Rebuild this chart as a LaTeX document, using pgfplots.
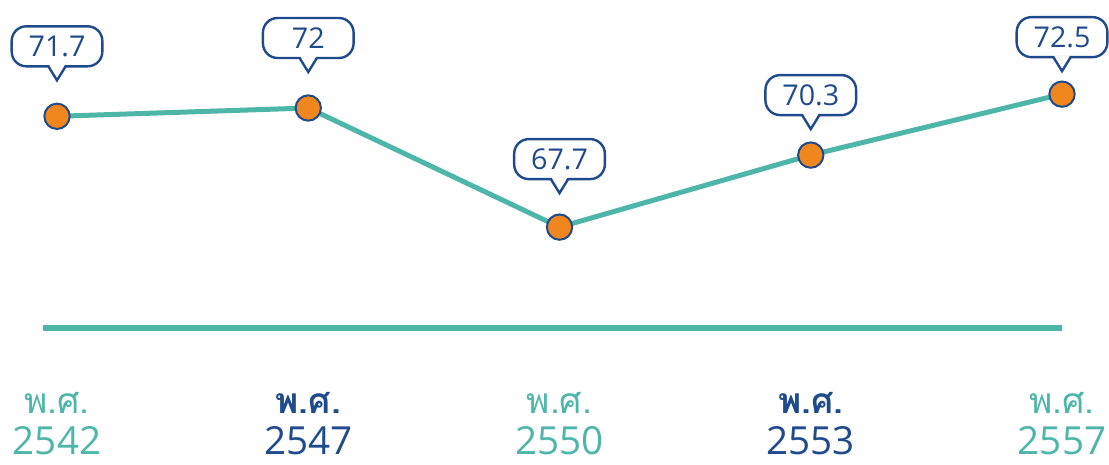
\documentclass[border=0pt]{standalone}
\usepackage{pgfplots}
\pgfplotsset{compat=1.18}
\usepackage{fontspec}
\setmainfont{Open Sans}
\newfontfamily\thaifont[Script=Thai]{Loma}
\definecolor{teal1}{RGB}{77,182,168}
\definecolor{navy1}{RGB}{31,74,140}
\definecolor{orange1}{RGB}{240,134,30}
% #1 name, #2 x, #3 y, #4 text, #5 box-centre offset (pt)
\newcommand\mycallout[5]{%
  \node[draw=navy1, line width=1.8pt, fill=white, rounded corners=11pt,
        minimum width=68pt, minimum height=30pt, inner sep=0pt, outer sep=0pt,
        text=navy1, font=\fontsize{21.5}{21.5}\selectfont, yshift=#5]
        (#1) at (axis cs:#2,#3) {#4};
  \fill[white] ([xshift=-6pt,yshift=1.3pt]#1.south) -- ([yshift=-10.5pt]#1.south) -- ([xshift=6pt,yshift=1.3pt]#1.south) -- cycle;
  \draw[navy1, line width=1.8pt, line join=miter] ([xshift=-6.5pt]#1.south) -- ([yshift=-10.5pt]#1.south) -- ([xshift=6.5pt]#1.south);
}
\begin{document}
\begin{tikzpicture}
\begin{axis}[
  scale only axis, width=831.75pt, height=348pt,
  xmin=-0.2269, xmax=4.187, ymin=59.148, ymax=75.899,
  hide axis, clip=false,
]
\path (rel axis cs:0,0) rectangle (rel axis cs:1,1);
% base line
\addplot[teal1, line width=4.5pt, line cap=butt] coordinates {(-0.056,64.06) (4,64.06)};
% data
\addplot[teal1, line width=3.75pt, mark=*, mark size=9.5pt,
  mark options={fill=orange1, draw=navy1, line width=1.5pt}]
  coordinates {(0,71.7) (1,72) (2,67.7) (3,70.3) (4,72.5)};
\mycallout{ca}{0}{71.7}{71.7}{52.5pt}
\mycallout{cb}{1}{72}{72}{52.5pt}
\mycallout{cc}{2}{67.7}{67.7}{51pt}
\mycallout{cd}{3}{70.3}{70.3}{45pt}
\mycallout{ce}{4}{72.5}{72.5}{42.75pt}
% labels
\tikzset{th/.style={anchor=base, inner sep=0pt, text depth=0pt, font=\thaifont\fontsize{26.5}{26.5}\selectfont},
         thb/.style={th, font=\thaifont\bfseries\fontsize{26.5}{26.5}\selectfont},
         yr/.style={anchor=base, inner sep=0pt, text depth=0pt, font=\fontsize{29}{29}\selectfont}}
\node[th, text=teal1] at (axis cs:0,60.98) {พ.ศ.};
\node[thb, text=navy1] at (axis cs:1,60.98) {พ.ศ.};
\node[th, text=teal1] at (axis cs:2,60.98) {พ.ศ.};
\node[thb, text=navy1] at (axis cs:3,60.98) {พ.ศ.};
\node[th, text=teal1] at (axis cs:4,60.98) {พ.ศ.};
\node[yr, text=teal1] at (axis cs:0,59.5) {2542};
\node[yr, text=navy1] at (axis cs:1,59.5) {2547};
\node[yr, text=teal1] at (axis cs:2,59.5) {2550};
\node[yr, text=navy1] at (axis cs:3,59.5) {2553};
\node[yr, text=teal1] at (axis cs:4,59.5) {2557};
\end{axis}
\end{tikzpicture}
\end{document}
